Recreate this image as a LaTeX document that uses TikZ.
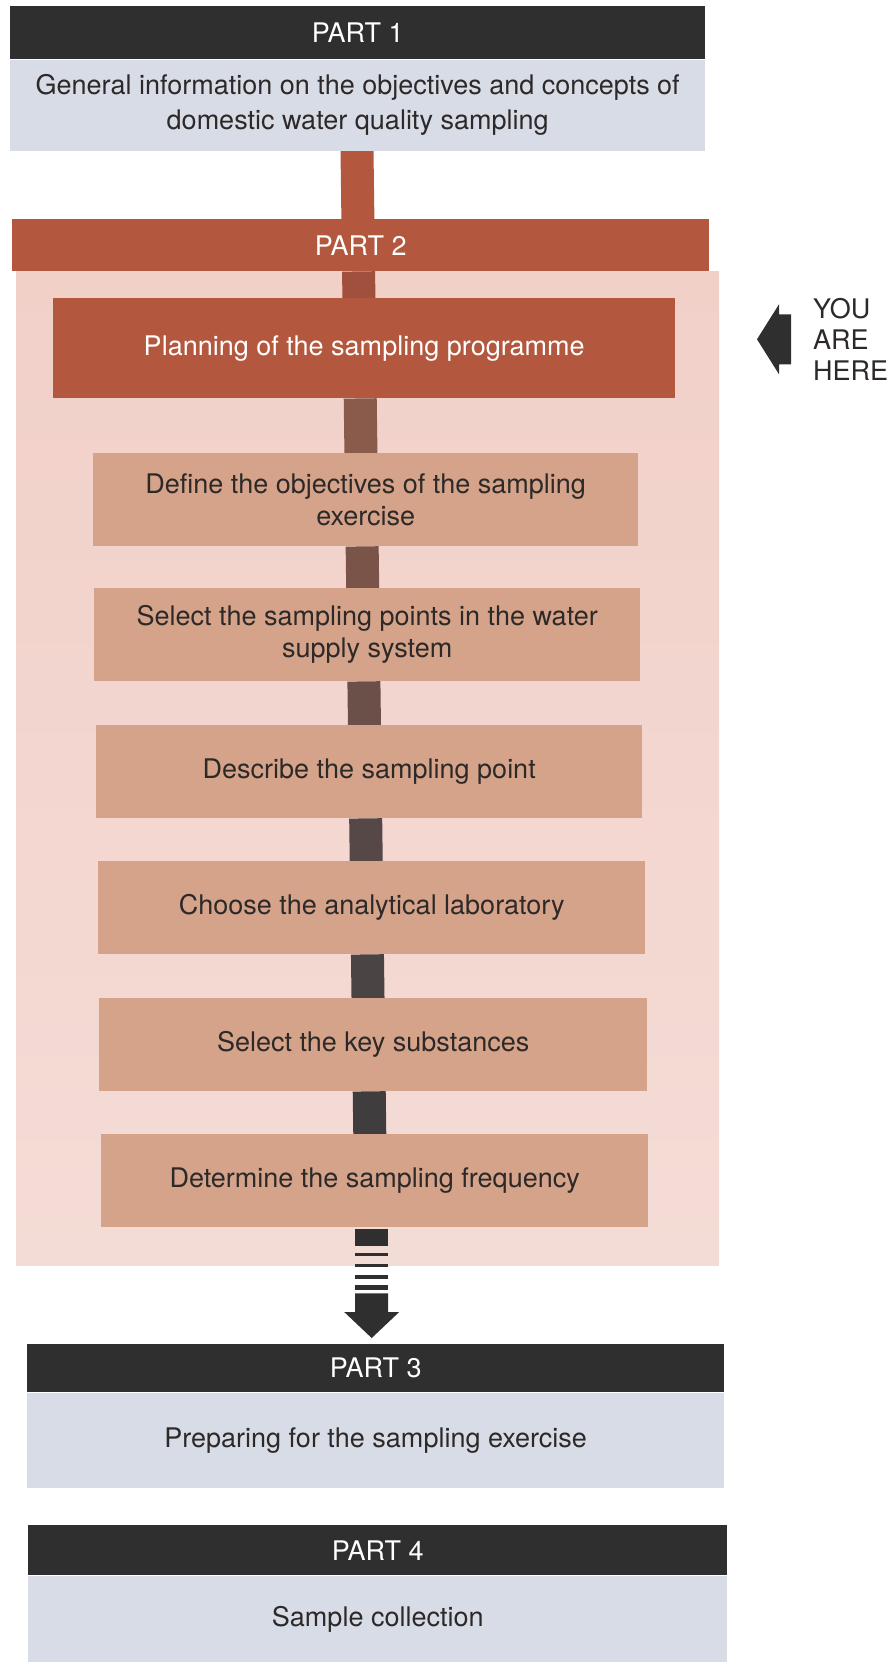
\documentclass[tikz,border=0pt]{standalone}
\usepackage{fontspec}
\setmainfont{TeX Gyre Heros}
\usetikzlibrary{calc,backgrounds}
\definecolor{charcoal}{HTML}{2F2F2F}
\definecolor{slate}{HTML}{D7DCE7}
\definecolor{rust}{HTML}{B3583E}
\definecolor{blushtop}{HTML}{F1D0C8}
\definecolor{blushbot}{HTML}{F4DCD6}
\definecolor{tan}{HTML}{D5A38A}
\definecolor{ink}{HTML}{2D2928}
\newcommand*\bigtxt{\fontsize{27}{32}\selectfont}
\tikzset{bar/.style={fill=charcoal, text=white, anchor=north west, inner sep=0pt, font=\bigtxt},
         panel/.style={fill=slate, text=ink, anchor=north west, inner sep=0pt, align=center, font=\bigtxt},
         stepbox/.style={fill=tan, text=ink, anchor=north west, inner sep=0pt, align=center, font=\bigtxt, minimum height=93pt},
         stem/.style={line width=33pt}}

\begin{document}
\begin{tikzpicture}[x=1pt, y=-1pt]
        \useasboundingbox (0,0) rectangle (892,1662);
        \node[bar, minimum width=695pt, minimum height=53pt] (p1h) at (10,6) {PART 1};
        \node[panel, minimum width=695pt, minimum height=91pt, font=\fontsize{27}{35}\selectfont] (p1b) at (p1h.south west) {General information on the objectives and concepts of\\domestic water quality sampling};
        \node[bar, fill=rust, minimum width=697pt, minimum height=52pt] (p2h) at (12,219) {PART 2};
        \node[stepbox, fill=rust, text=white, minimum width=622pt, minimum height=100pt] (plan) at (53,298) {Planning of the sampling programme};
        \foreach \n/\x/\y/\w/\t in {s1/93/453/545/{Define the objectives of the sampling\\exercise},
                                    s2/94/588/546/{Select the sampling points in the water\\supply system},
                                    s3/96/725/546/{Describe the sampling point},
                                    s4/98/861/547/{Choose the analytical laboratory},
                                    s5/99/998/548/{Select the key substances},
                                    s6/101/1134/547/{Determine the sampling frequency}}
            \node[stepbox, minimum width=\w pt] (\n) at (\x,\y) {\t};
        \node[bar, minimum width=697pt, minimum height=48pt] (p3h) at (27,1344) {PART 3};
        \node[panel, minimum width=697pt, minimum height=95pt] (p3b) at (p3h.south west) {Preparing for the sampling exercise};
        \node[bar, minimum width=699pt, minimum height=50pt] (p4h) at (28,1525) {PART 4};
        \node[panel, minimum width=699pt, minimum height=87pt] (p4b) at (p4h.south west) {Sample collection};
        %
        \begin{scope}[on background layer]
            \fill[top color=blushtop, bottom color=blushbot] (16,271) rectangle (719,1265);
            \coordinate (top) at (357,150);
            \coordinate (bot) at (371,1228);
            \foreach \a/\b/\c in {p1b/p2h/B3583E, p2h/plan/A0503C, plan/s1/8A5A4A, s1/s2/7A5448,
                                  s2/s3/6B5049, s3/s4/554846, s4/s5/4A4444, s5/s6/3F3D3D}{
                \definecolor{seg}{HTML}{\c}
                \draw[stem, draw=seg] ($(top)!(\a.south)!(bot)$) -- ($(top)!(\b.north)!(bot)$);
            }
        \end{scope}
        %
        \coordinate (tail) at ($(s6.south)+(-3,2)$);
        \coordinate (tip) at ($(p3h.north)+(-4,-6)$);
        \fill[charcoal] ($(tail)+(-16.5,0)$) rectangle ($(tail)+(16.5,17)$);
        \foreach \y/\h in {24/3, 35/3, 46/4, 56/5}
            \fill[charcoal] ($(tail)+(-16.5,\y)$) rectangle ++(33,\h);
        \fill[charcoal] ($(tail)+(-16.5,64)$) -- ($(tip)+(-16.5,-26)$) -- ($(tip)+(-27.5,-26)$) -- (tip)
            -- ($(tip)+(27.5,-26)$) -- ($(tip)+(16.5,-26)$) -- ($(tail)+(16.5,64)$) -- cycle;
        %
        \node[anchor=north west, align=left, inner sep=0pt, text=ink, font=\fontsize{27}{31}\selectfont] (here) at (813,298) {YOU\\ARE\\HERE};
        \coordinate (yah) at ($(here.west)+(-22,0)$);
        \fill[charcoal] (yah) ++(0,-25) -- ++(-12,0) -- ++(0,-10) -- ++(-22,35) -- ++(22,35) -- ++(0,-10) -- ++(12,0) -- cycle;
\end{tikzpicture}
\end{document}
